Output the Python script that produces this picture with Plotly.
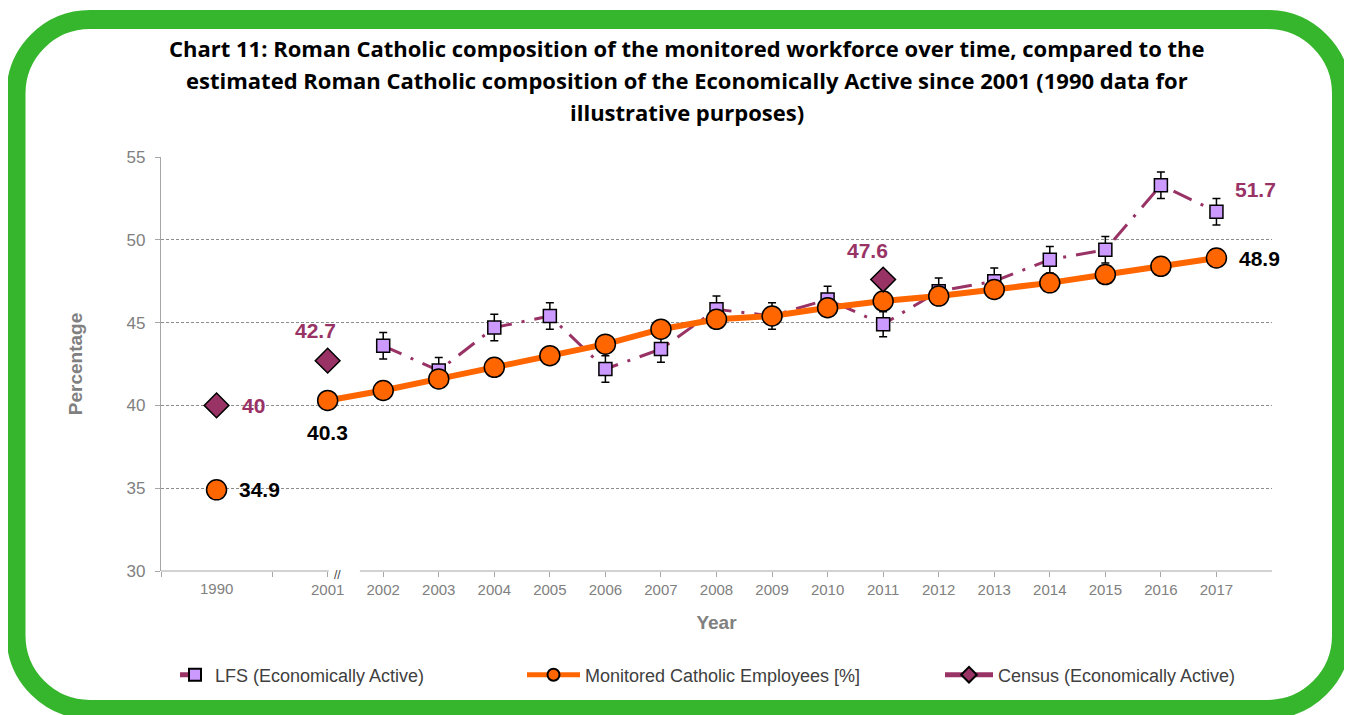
import plotly.graph_objects as go

# category slots; the blank slot makes the gap between 1990 and 2001
years = ["1990", "", "2001", "2002", "2003", "2004", "2005", "2006", "2007", "2008",
         "2009", "2010", "2011", "2012", "2013", "2014", "2015", "2016", "2017"]
monitored = [34.9, None, 40.3, 40.9, 41.6, 42.3, 43.0, 43.7, 44.6, 45.2,
             45.4, 45.9, 46.3, 46.6, 47.0, 47.4, 47.9, 48.4, 48.9]
lfs = [None, None, None, 43.6, 42.1, 44.7, 45.4, 42.2, 43.4, 45.8,
       45.4, 46.4, 44.9, 46.9, 47.5, 48.8, 49.4, 53.3, 51.7]
lfs_err = [0, 0, 0, 0.8, 0.8, 0.8, 0.8, 0.8, 0.8, 0.8,
           0.8, 0.8, 0.75, 0.8, 0.8, 0.8, 0.8, 0.8, 0.8]
census = [40.0, None, 42.7, None, None, None, None, None, None, None,
          None, None, 47.6, None, None, None, None, None, None]

title_lines = [
    "Chart 11: Roman Catholic composition of the monitored workforce over time, compared to the",
    "estimated Roman Catholic composition of the Economically Active since 2001 (1990 data for",
    "illustrative purposes)",
]

pos = list(range(len(years)))

# the page body has an 8px margin, so the figure is that much smaller
OFF = 8
W, H = 1352 - OFF, 715 - OFF
L, R, T, B = 161 - OFF, 80, 157 - OFF, 144
PW, PH = W - L - R, H - T - B

PLUM = "#993366"
ORANGE = "#FF6600"
GREY = "#808080"
FONT = "Liberation Sans, Arial, sans-serif"


def px(x, y):
    """page pixel position -> paper coords"""
    return (x - OFF - L) / PW, (H + OFF - B - y) / PH


def rounded_rect(x0, y0, x1, y1, r):
    k = 0.5523 * r

    def p(x, y):
        a, b = px(x, y)
        return f"{a:.5f},{b:.5f}"

    pts = [
        f"M{p(x0 + r, y0)}",
        f"L{p(x1 - r, y0)}",
        f"C{p(x1 - r + k, y0)} {p(x1, y0 + r - k)} {p(x1, y0 + r)}",
        f"L{p(x1, y1 - r)}",
        f"C{p(x1, y1 - r + k)} {p(x1 - r + k, y1)} {p(x1 - r, y1)}",
        f"L{p(x0 + r, y1)}",
        f"C{p(x0 + r - k, y1)} {p(x0, y1 - r + k)} {p(x0, y1 - r)}",
        f"L{p(x0, y0 + r)}",
        f"C{p(x0, y0 + r - k)} {p(x0 + r - k, y0)} {p(x0 + r, y0)}",
    ]
    return " ".join(pts) + " Z"


fig = go.Figure()

fig.add_trace(go.Scatter(
    x=pos, y=lfs, name="LFS (Economically Active)", mode="lines+markers",
    line=dict(color=PLUM, width=3, dash="20px,10px,3px,10px"),
    marker=dict(symbol="square", size=13, color="#CC99FF", line=dict(color="black", width=1.5)),
    error_y=dict(type="data", array=lfs_err, color="black", thickness=1.5, width=4),
    legend="legend",
))
fig.add_trace(go.Scatter(
    x=pos, y=monitored, name="Monitored Catholic Employees [%]", mode="lines+markers",
    line=dict(color=ORANGE, width=6),
    marker=dict(symbol="circle", size=20, color=ORANGE, line=dict(color="black", width=1.5)),
    legend="legend2",
))
fig.add_trace(go.Scatter(
    x=pos, y=census, name="Census (Economically Active)", mode="lines+markers",
    line=dict(color=PLUM, width=2),
    marker=dict(symbol="diamond", size=19, color=PLUM, line=dict(color="black", width=1.5)),
    legend="legend3",
))

# data labels: (series, slot, text colour, xshift, yshift, xanchor)
labels = [
    (census, 0, PLUM, 23, 0, "left"),
    (census, 2, PLUM, -12, 30, "center"),
    (census, 12, PLUM, -16, 29, "center"),
    (lfs, 18, PLUM, 39, 22, "center"),
    (monitored, 0, "black", 20, 0, "left"),
    (monitored, 2, "black", 0, -32, "center"),
    (monitored, 18, "black", 21, 0, "left"),
]
for series, i, col, xs, ys, xa in labels:
    fig.add_annotation(x=pos[i], y=series[i], text=f"{series[i]:g}", showarrow=False,
                       xshift=xs, yshift=ys, xanchor=xa,
                       font=dict(family=FONT, size=21, color=col, weight="bold"))

# title, one annotation per line to get the wide line spacing
for k, line in enumerate(title_lines):
    tx, ty = px(687, 48 + 32 * k)
    fig.add_annotation(x=tx, y=ty, xref="paper", yref="paper", text=line, showarrow=False,
                       xanchor="center", yanchor="middle",
                       font=dict(family="Open Sans, sans-serif", size=22, color="black",
                                 weight="bold"))

# 1990 label sits between its own tick marks, so it is written separately
fig.add_annotation(x=pos[0], y=0, yref="paper", yanchor="top", yshift=-7, text=years[0],
                   showarrow=False, font=dict(family=FONT, size=15, color=GREY))
# axis break mark
fig.add_annotation(x=2.17, y=0, yref="paper", yanchor="middle", yshift=-4, text="//",
                   showarrow=False, font=dict(family=FONT, size=12, color="#404040"))

shapes = [
    dict(type="path", xref="paper", yref="paper", layer="below",
         path=rounded_rect(16, 19.5, 1341.5, 709.5, 74),
         line=dict(color="#36B62C", width=19)),
    dict(type="line", xref="x", yref="paper", x0=-1, x1=2.02, y0=0, y1=0,
         line=dict(color="#A6A6A6", width=1.2)),
    dict(type="line", xref="x", yref="paper", x0=2.58, x1=19, y0=0, y1=0,
         line=dict(color="#A6A6A6", width=1.2)),
]

tickvals = [-1, 1] + pos[2:]
ticktext = ["", ""] + years[2:]

leg_y = px(0, 675)[1]
leg_font = dict(family=FONT, size=18, color="#404040")

fig.update_layout(
    width=W, height=H,
    margin=dict(l=L, r=R, t=T, b=B),
    paper_bgcolor="white", plot_bgcolor="white",
    font=dict(family=FONT, color=GREY),
    showlegend=True,
    xaxis=dict(range=[-1, 19], tickmode="array", tickvals=tickvals, ticktext=ticktext,
               ticks="outside", ticklen=5, tickcolor="#A6A6A6", showline=False,
               showgrid=False, zeroline=False, tickfont=dict(size=15, color=GREY),
               title=dict(text="<b>Year</b>", font=dict(size=19, color=GREY), standoff=18)),
    yaxis=dict(range=[30, 55], dtick=5, ticks="outside", ticklen=5, tickcolor="#A6A6A6",
               showline=True, linecolor="#A6A6A6", linewidth=1.2,
               showgrid=True, gridcolor="#8C8C8C", griddash="3px,2px", gridwidth=0.7,
               zeroline=False, tickfont=dict(size=17, color=GREY), ticklabelstandoff=6,
               title=dict(text="<b>Percentage</b>", font=dict(size=19, color=GREY), standoff=38)),
    shapes=shapes,
    legend=dict(orientation="h", x=px(175, 0)[0], y=leg_y, xanchor="left", yanchor="middle",
                itemwidth=30, itemsizing="constant", font=leg_font, bgcolor="rgba(0,0,0,0)"),
    legend2=dict(orientation="h", x=px(522, 0)[0], y=leg_y, xanchor="left", yanchor="middle",
                 itemwidth=53, itemsizing="constant", font=leg_font, bgcolor="rgba(0,0,0,0)"),
    legend3=dict(orientation="h", x=px(940, 0)[0], y=leg_y, xanchor="left", yanchor="middle",
                 itemwidth=48, itemsizing="constant", font=leg_font, bgcolor="rgba(0,0,0,0)"),
)

fig.write_html("out.html")
